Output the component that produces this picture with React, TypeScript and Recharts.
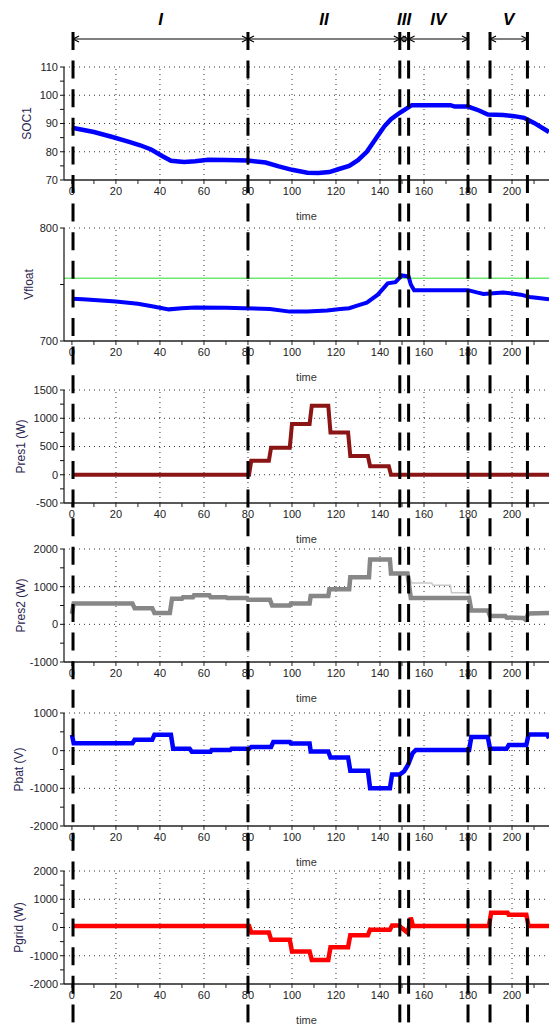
import React from 'react';
import { LineChart, Line, XAxis, YAxis, ReferenceLine, ReferenceDot } from 'recharts';

// simulation time axis, shared by every panel
const X_DOMAIN: [number, number] = [-3.6, 216.8];
const timeTicks = [0, 10, 20, 30, 40, 50, 60, 70, 80, 90, 100, 110, 120, 130, 140, 150, 160, 170, 180, 190, 200, 210];
const timeGrid = [20, 40, 60, 80, 100, 120, 140, 160, 180, 200];

// operating phases
const phaseBounds = [0.5, 80, 149, 153, 180, 190, 207];
const phaseNames = ['I', 'II', 'III', 'IV', 'V'];
const phaseFrom = [0.5, 80, 149, 153, 190];
const phaseTo = [80, 149, 153, 180, 207];

const soc1: [number, number][] = [
  [0, 88.5], [10, 87], [18, 85.3], [26, 83.5], [31, 82.3], [36, 80.8], [41, 78.5], [45, 76.8],
  [51, 76.4], [56, 76.6], [62, 77.2], [70, 77.1], [80, 76.9], [88, 76.2], [94, 74.8], [100, 73.6],
  [107, 72.6], [112, 72.5], [117, 72.8], [121, 73.8], [126, 75], [130, 77], [134, 80], [138, 84.5],
  [142, 89], [145, 91.5], [149, 93.8], [152, 95.3], [154.5, 96.5], [172, 96.5], [174, 96], [180, 96],
  [185, 94.6], [189, 93.2], [196, 93], [201, 92.6], [205.5, 92], [210, 90.2], [216.8, 87],
];

const vfloat: [number, number][] = [
  [0, 737.3], [5, 737], [20, 735], [30, 733], [37, 730.5], [44, 728], [50, 729], [56, 729.6],
  [70, 729.4], [78, 729], [90, 728.4], [99, 726], [107, 726], [116, 727], [122, 728.4], [126, 729],
  [130, 731.5], [134, 734], [139, 741], [143.5, 751], [147, 752], [150, 758], [153, 757], [154, 750],
  [155.5, 745], [180, 745], [184, 743], [187, 741.7], [196, 743], [200, 742], [204, 741], [208, 739],
  [212, 738], [216.8, 737],
];
const vfloatLimit = 755.5;

const pres1: [number, number][] = [
  [0, 0], [80.5, 0], [81.5, 250], [89.5, 250], [90.5, 480], [99, 480], [100, 900], [108, 900],
  [109, 1220], [116.5, 1220], [117.5, 750], [125.5, 750], [126.5, 330], [134.5, 330], [135.5, 150],
  [144, 150], [145, 0], [216.8, 0],
];

const pres2: [number, number][] = [
  [0, 280], [0.8, 550], [27.5, 550], [28.5, 430], [36.5, 430], [37.5, 300], [44.5, 300], [45.5, 680],
  [50, 680], [50.5, 720], [55, 720], [55.5, 770], [62.5, 770], [63, 720], [70, 720], [70.5, 700],
  [79.5, 700], [80, 650], [90, 650], [91, 500], [99, 500], [99.5, 550], [108, 550], [108.5, 750],
  [116.5, 750], [117, 930], [126, 930], [126.5, 1250], [135, 1250], [135.5, 1720], [144.5, 1720],
  [145, 1350], [152.5, 1350], [154, 700], [180.5, 700], [181.5, 370], [189, 370], [190, 220],
  [197, 220], [197.5, 180], [205, 170], [206, 130], [207.5, 290], [216.8, 300],
];
const pres2Ref: [number, number][] = [
  [152.5, 1350], [154.5, 1100], [163.5, 1100], [164, 1040], [172, 1040], [172.5, 840], [180.5, 840],
  [181.5, 370],
];

const pbat: [number, number][] = [
  [0, 420], [0.8, 200], [27.5, 200], [28.5, 290], [36.5, 290], [37.5, 420], [45, 420], [46, 50],
  [53.5, 50], [54.5, -30], [63, -30], [63.5, 20], [72, 20], [72.5, 50], [80.5, 50], [81.5, 100],
  [90.5, 100], [91.5, 230], [99, 230], [99.5, 190], [108, 190], [108.5, -20], [116.5, -20],
  [117.5, -180], [125.5, -180], [126.5, -530], [134.5, -530], [135.5, -1000], [144.5, -1000],
  [145.5, -630], [149, -630], [151, -545], [152.7, -380], [154.8, -70], [156.3, 20], [180.5, 20],
  [181.5, 360], [189, 360], [190, 50], [197.5, 50], [198.5, 150], [206.5, 150], [207.5, 430],
  [216, 430], [216.8, 330],
];

const pgrid: [number, number][] = [
  [0, 50], [80.5, 50], [81.5, -180], [89.5, -180], [90.5, -430], [99, -430], [100, -850], [108, -850],
  [109, -1150], [116.5, -1150], [117.5, -700], [125.5, -700], [126.5, -270], [134.5, -270],
  [135.5, -80], [144.5, -80], [145.5, 70], [148.5, 70], [152, -150], [153, -50], [154, 350],
  [155, 50], [189.5, 50], [190.5, 520], [198, 520], [198.5, 450], [206.5, 450], [207.5, 50],
  [216.8, 50],
];

const toRows = (pts: [number, number][]) => pts.map(([t, v]) => ({ t, v }));

const FONT = 'Arial, "Liberation Sans", sans-serif';
const PLOT_H = 113;
const TOP_PAD = 10;
const AXIS_H = 44;

type Series = { data: [number, number][]; color: string; width: number };
type Panel = {
  label: string;
  labelX: number;
  top: number;
  domain: [number, number];
  ticks: number[];
  labelled: number[];
  grid: number[];
  series: Series[];
  limit?: number;
};

const panels: Panel[] = [
  {
    label: 'SOC1', labelX: 27, top: 67, domain: [70, 110],
    ticks: [70, 75, 80, 85, 90, 95, 100, 105, 110], labelled: [70, 80, 90, 100, 110],
    grid: [80, 90, 100, 110],
    series: [{ data: soc1, color: '#0000ff', width: 4.5 }],
  },
  {
    label: 'Vfloat', labelX: 29, top: 228, domain: [700, 800],
    ticks: [700, 750, 800], labelled: [700, 800], grid: [800],
    series: [{ data: vfloat, color: '#0000ff', width: 4 }], limit: vfloatLimit,
  },
  {
    label: 'Pres1 (W)', labelX: 21, top: 390, domain: [-500, 1500],
    ticks: [-500, -250, 0, 250, 500, 750, 1000, 1250, 1500], labelled: [-500, 0, 500, 1000, 1500],
    grid: [0, 500, 1000, 1500],
    series: [{ data: pres1, color: '#8b1414', width: 4 }],
  },
  {
    label: 'Pres2 (W)', labelX: 21, top: 549, domain: [-1000, 2000],
    ticks: [-1000, -500, 0, 500, 1000, 1500, 2000], labelled: [-1000, 0, 1000, 2000],
    grid: [0, 1000, 2000],
    series: [
      { data: pres2Ref, color: '#c8c8c8', width: 1.5 },
      { data: pres2, color: '#878787', width: 4.5 },
    ],
  },
  {
    label: 'Pbat (V)', labelX: 19, top: 713, domain: [-2000, 1000],
    ticks: [-2000, -1500, -1000, -500, 0, 500, 1000], labelled: [-2000, -1000, 0, 1000],
    grid: [-1000, 0, 1000],
    series: [{ data: pbat, color: '#0000ff', width: 4.5 }],
  },
  {
    label: 'Pgrid (W)', labelX: 19, top: 871, domain: [-2000, 2000],
    ticks: [-2000, -1500, -1000, -500, 0, 500, 1000, 1500, 2000], labelled: [-2000, -1000, 0, 1000, 2000],
    grid: [-1000, 0, 1000, 2000],
    series: [{ data: pgrid, color: '#ff0000', width: 4.5 }],
  },
];

const yLabel = (text: string, x: number) => (props: any) => {
  const vb = props.viewBox;
  const cy = vb.y + vb.height / 2;
  return (
    <text x={x} y={cy} transform={`rotate(-90 ${x} ${cy})`} textAnchor="middle" dominantBaseline="central"
      fontSize={12} fill="#2a2550" fontFamily={FONT}>
      {text}
    </text>
  );
};

function PanelChart({ p }: { p: Panel }) {
  return (
    <div style={{ position: 'absolute', left: 0, top: p.top - TOP_PAD }}>
      <LineChart width={549} height={TOP_PAD + PLOT_H + AXIS_H} margin={{ top: TOP_PAD, right: 0, bottom: 0, left: 0 }}>
        <XAxis type="number" dataKey="t" domain={X_DOMAIN} ticks={timeTicks} interval={0} allowDataOverflow
          height={AXIS_H} tickSize={4} tickMargin={3}
          tickFormatter={(v: number) => (v % 20 === 0 && v <= 200 ? String(v) : '')}
          tick={{ fontSize: 11, fill: '#222', fontFamily: FONT }}
          axisLine={{ stroke: '#222', strokeWidth: 1.5 }} tickLine={{ stroke: '#222' }}
          label={{ value: 'time', position: 'insideBottom', offset: 4, fontSize: 11, fill: '#333', fontFamily: FONT }} />
        <YAxis type="number" domain={p.domain} ticks={p.ticks} interval={0} allowDataOverflow width={64}
          tickSize={4} tickMargin={2}
          tickFormatter={(v: number) => (p.labelled.includes(v) ? String(v) : '')}
          tick={{ fontSize: 11, fill: '#222', fontFamily: FONT }}
          axisLine={{ stroke: '#111', strokeWidth: 1.2 }} tickLine={{ stroke: '#111' }}
          label={{ content: yLabel(p.label, p.labelX) }} />
        {timeGrid.map((g) => (
          <ReferenceLine key={'vx' + g} x={g} stroke="#333" strokeDasharray="1 4" />
        ))}
        {p.grid.map((g) => (
          <ReferenceLine key={'hy' + g} y={g} stroke="#333" strokeDasharray="1 4" />
        ))}
        {p.limit !== undefined && <ReferenceLine y={p.limit} stroke="#6ee86e" strokeWidth={1.5} />}
        {p.series.map((s, i) => (
          <Line key={i} data={toRows(s.data)} dataKey="v" type="linear" dot={false} stroke={s.color}
            strokeWidth={s.width} isAnimationActive={false} />
        ))}
      </LineChart>
    </div>
  );
}

const arrowHead = (dir: 1 | -1) => (props: any) => {
  const { cx, cy } = props;
  return <path d={`M${cx + dir * 6},${cy - 3} L${cx},${cy} L${cx + dir * 6},${cy + 3}`} stroke="#000" strokeWidth={1.2} fill="none" />;
};

const phaseText = (text: string) => (props: any) => (
  <text x={props.cx} y={props.cy} textAnchor="middle" dominantBaseline="central" fontSize={17}
    fontWeight="bold" fontStyle="italic" fontFamily={FONT} fill="#000">
    {text}
  </text>
);

function Overlay() {
  return (
    <div style={{ position: 'absolute', left: 0, top: 0, pointerEvents: 'none' }}>
      <LineChart width={549} height={1026} margin={{ top: 0, right: 0, bottom: 0, left: 64 }}
        data={phaseBounds.map((t) => ({ t }))}>
        <XAxis type="number" dataKey="t" domain={X_DOMAIN} hide allowDataOverflow />
        <YAxis type="number" domain={[0, 1026]} reversed hide allowDataOverflow />
        {phaseBounds.map((b) => (
          <ReferenceLine key={'pb' + b} segment={[{ x: b, y: 32 }, { x: b, y: 1026 }]} stroke="#000"
            strokeWidth={3} strokeDasharray="18 10.6" />
        ))}
        {phaseNames.map((n, i) => (
          <ReferenceLine key={'ar' + n} segment={[{ x: phaseFrom[i], y: 39 }, { x: phaseTo[i], y: 39 }]}
            stroke="#000" strokeWidth={1.2} />
        ))}
        {phaseNames.map((n, i) => (
          <ReferenceDot key={'al' + n} x={phaseFrom[i]} y={39} r={3} shape={arrowHead(1)} />
        ))}
        {phaseNames.map((n, i) => (
          <ReferenceDot key={'ae' + n} x={phaseTo[i]} y={39} r={3} shape={arrowHead(-1)} />
        ))}
        {phaseNames.map((n, i) => (
          <ReferenceDot key={'nm' + n} x={(phaseFrom[i] + phaseTo[i]) / 2} y={19} r={3} shape={phaseText(n)} />
        ))}
      </LineChart>
    </div>
  );
}

export default function App() {
  return (
    <div style={{ position: 'absolute', left: 0, top: 0, width: 549, height: 1026, overflow: 'hidden', background: '#fff' }}>
      {panels.map((p) => (
        <PanelChart key={p.label} p={p} />
      ))}
      <Overlay />
    </div>
  );
}
